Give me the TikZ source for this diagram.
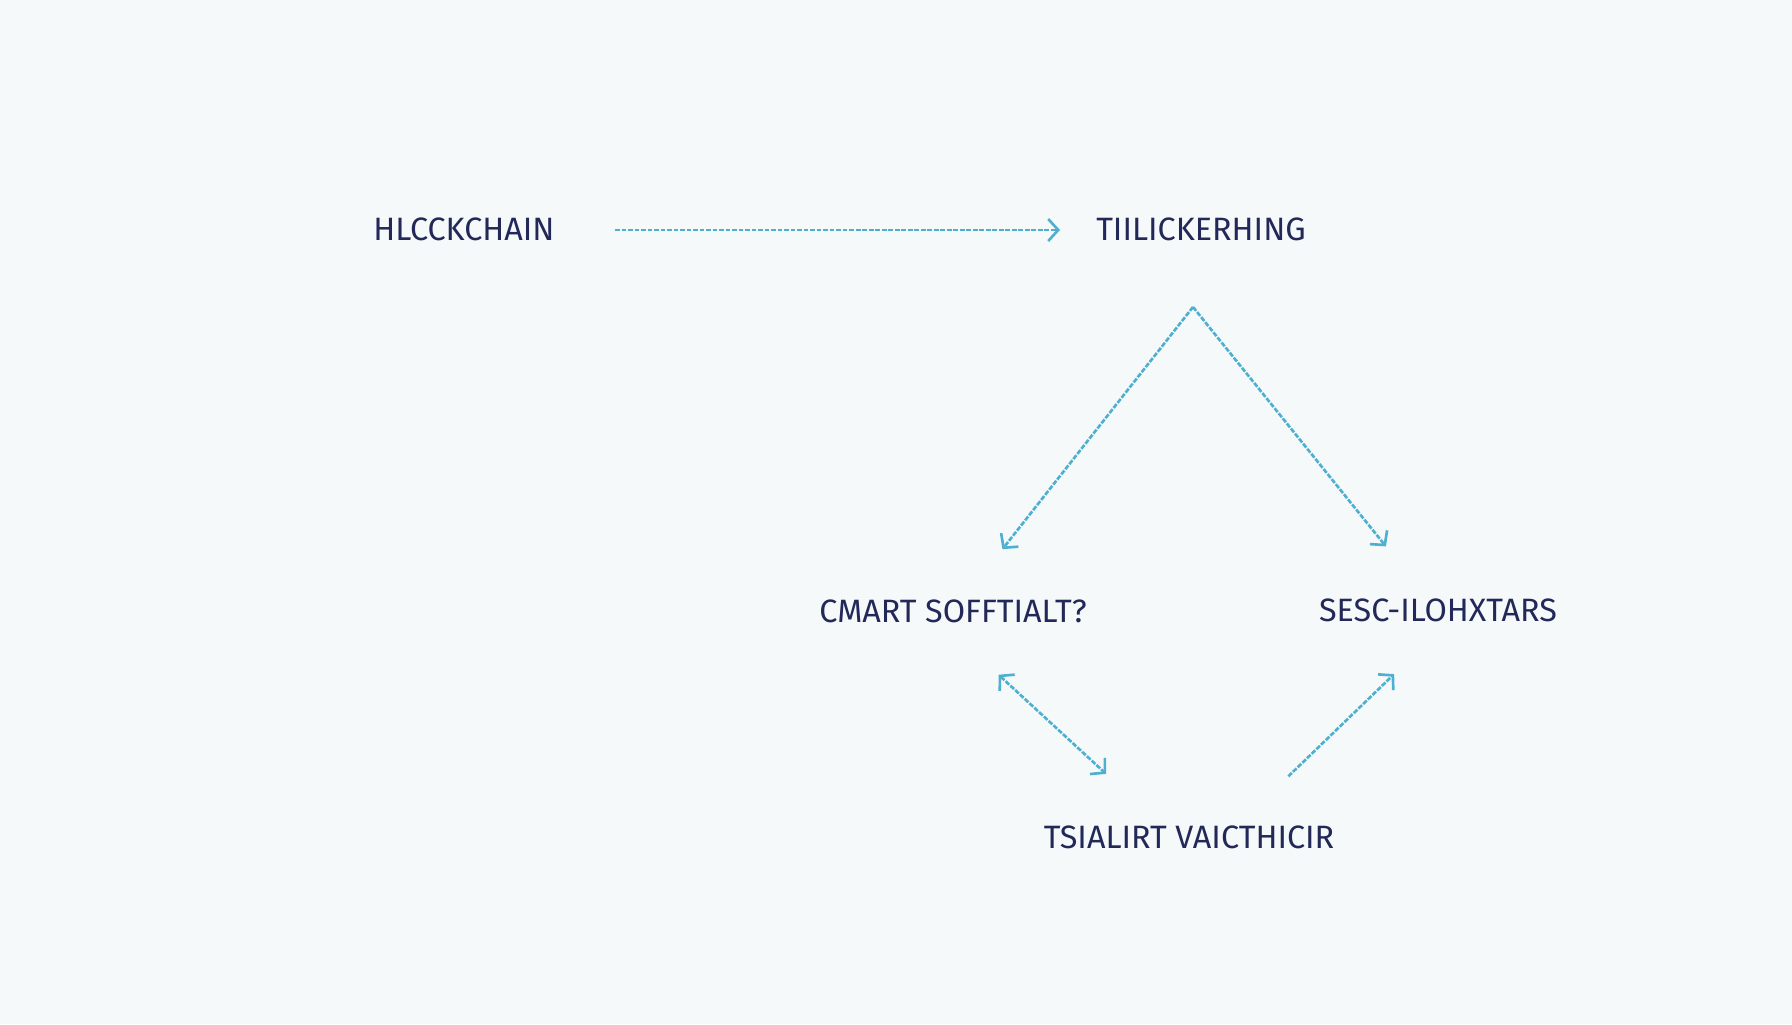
\documentclass[tikz,border=0pt]{standalone}
\usepackage{fontspec}
\setmainfont{Fira Sans}
\usepackage{xcolor}
\usetikzlibrary{arrows.meta,positioning}

\definecolor{paper}{RGB}{246,249,250}
\definecolor{ink}{RGB}{34,40,88}
\definecolor{link}{RGB}{78,176,208}

\begin{document}
\begin{tikzpicture}[
    node distance=1cm,
    term/.style={rectangle, inner sep=0pt, text height=0.25cm, text depth=0.05cm, minimum height=0.4cm, text=ink, font=\fontsize{9.2}{11}\selectfont},
    flow/.style={-{Straight Barb[length=1mm, width=2.2mm]}, link, line width=0.75pt, dash pattern=on 1.4pt off 0.45pt},
]
    % Background
    \fill[paper] (0,0) rectangle (17.92,-10.24);
    \useasboundingbox (0,0) rectangle (17.92,-10.24);

    % Top row
    \node[term] (blk) at (4.64,-2.30) {HLCCKCHAIN};
    \node[term, on grid, right=7.37cm of blk] (tik) {TIILICKERHING};

    % Middle row
    \node[term, on grid, below left=3.82cm and 2.48cm of tik] (cmart) {CMART SOFFTIALT?};
    \node[term, on grid, below right=3.81cm and 2.37cm of tik] (sesc) {SESC-ILOHXTARS};

    % Bottom
    \node[term, on grid, below right=2.26cm and 2.36cm of cmart] (tsi) {TSIALIRT VAICTHICIR};

    % Split point under the top right term
    \coordinate[on grid, below=0.77cm of tik, xshift=-0.08cm] (apex);

    % Arrows
    \draw[flow, shorten <=1.51cm, shorten >=1.41cm] (blk.center) -- (tik.center);
    \draw[flow, shorten >=0.80cm] (apex) -- (cmart.center);
    \draw[flow, shorten >=0.83cm] (apex) -- (sesc.center);
    \draw[flow, {Straight Barb[length=1mm, width=2.2mm]}-{Straight Barb[length=1mm, width=2.2mm]}, shorten <=0.62cm, shorten >=0.64cm] (cmart.south) -- (tsi.150);
    \draw[flow, shorten <=0.59cm, shorten >=0.61cm] (tsi.20) -- (sesc.south);
\end{tikzpicture}
\end{document}
